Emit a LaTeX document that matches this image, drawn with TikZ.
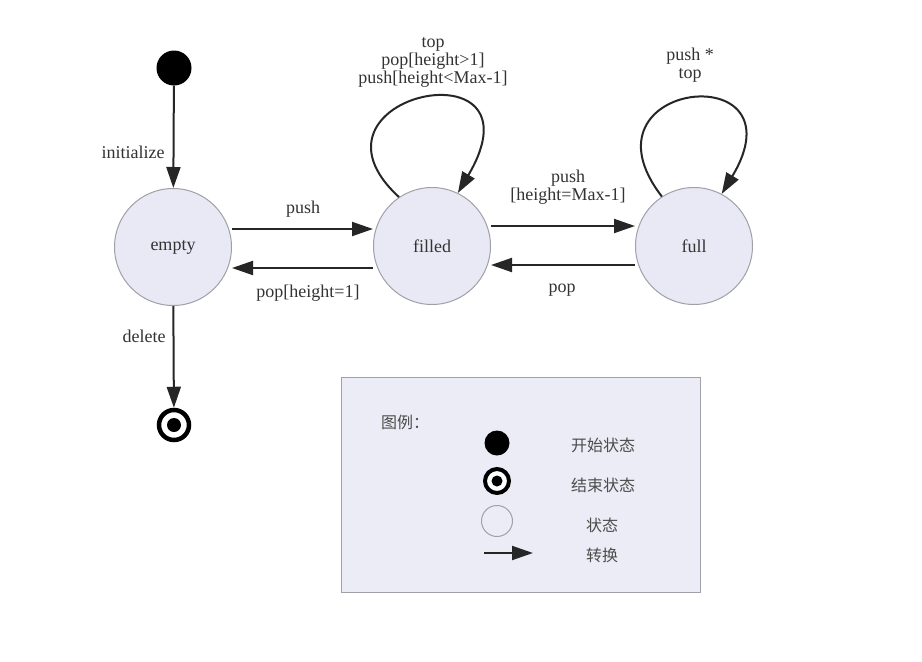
\documentclass[tikz,border=0pt]{standalone}
\usepackage{fontspec}
\setmainfont{Liberation Serif}
\newfontfamily\cjk{Noto Sans CJK SC}
\usetikzlibrary{arrows.meta}
\definecolor{statefill}{HTML}{E9E9F6}
\definecolor{stateline}{HTML}{A0A0A8}
\definecolor{legendfill}{HTML}{ECECF6}
\definecolor{txt}{HTML}{333333}
\begin{document}
\begin{tikzpicture}[x=1pt,y=-1pt,
  font=\fontsize{18}{19}\selectfont, text=txt,
  statenode/.style={circle, draw=stateline, fill=statefill, line width=1pt, minimum size=117pt, inner sep=0pt},
  startnode/.style={circle, fill=black, minimum size=35pt, inner sep=0pt},
  endnode/.style={circle, draw=black, line width=4.5pt, fill=white, minimum size=30pt, inner sep=0pt,
     path picture={\fill[black] (path picture bounding box.center) circle (7pt);}},
  trans/.style={draw=black!85, line width=2pt, -{Triangle[length=21pt,width=14pt]}},
  lbl/.style={inner sep=0pt, align=center},
  cjklbl/.style={inner sep=0pt, font=\cjk\fontsize{16}{18}\selectfont, text=black!70}]
\useasboundingbox (0,0) rectangle (922,662);
\fill[white] (0,0) rectangle (922,662);

% states
\node[startnode] (init) at (174,68) {};
\node[statenode] (empty) at (173,247) {empty};
\node[statenode] (filled) at (432,246) {filled};
\node[statenode] (full) at (694,246) {full};
\node[endnode] (final) at (174,425) {};

% transitions
\draw[trans] (init) -- (empty);
\node[lbl] (linit) at (133,152) {initialize};
\draw[trans] (empty) -- (final);
\node[lbl] (ldel) at (144,336) {delete};

\draw[trans] (empty.east |- 0,229) -- (filled.west |- 0,229);
\node[lbl] (lpush1) at (303,209) {push};
\draw[trans] (filled.west |- 0,268) -- (empty.east |- 0,268);
\node[lbl] (lpop1) at (308,293) {pop[height=1]};

\draw[trans] (filled.east |- 0,226) -- (full.west |- 0,226);
\node[lbl] (lpush2) at (568,187) {push\\[-1pt][height=Max-1]};
\draw[trans] (full.west |- 0,265) -- (filled.east |- 0,265);
\node[lbl] (lpop2) at (562,290) {pop};

\draw[trans] (filled.124) .. controls (288,95) and (548,40) .. (filled.64);
\node[lbl] (lloop1) at (433,62) {top\\[-1pt]pop[height>1]\\[-1pt]push[height<Max-1]};
\draw[trans] (full.123) .. controls (572,80) and (805,55) .. (full.62);
\node[lbl] (lloop2) at (690,65) {push *\\[-1pt]top};

% legend
\node[draw=stateline, fill=legendfill, line width=1pt, minimum width=359pt, minimum height=215pt, inner sep=0pt] (legend) at (520.5,484.5) {};
\node[cjklbl] (lgtitle) at (405,422) {图例：};
\node[circle, fill=black, minimum size=25pt, inner sep=0pt] (lgstart) at (497,443) {};
\node[cjklbl] (lgstartt) at (603,445) {开始状态};
\node[circle, draw=black, line width=4pt, fill=white, minimum size=24pt, inner sep=0pt,
  path picture={\fill[black] (path picture bounding box.center) circle (5.5pt);}] (lgend) at (497,481) {};
\node[cjklbl] (lgendt) at (603,485) {结束状态};
\node[circle, draw=stateline, fill=legendfill, line width=1pt, minimum size=31pt, inner sep=0pt] (lgstate) at (497,521) {};
\node[cjklbl] (lgstatet) at (602,525) {状态};
\coordinate (lga) at (484,553);
\coordinate (lgb) at (533,553);
\draw[trans] (lga) -- (lgb);
\node[cjklbl] (lgtranst) at (602,555) {转换};
\end{tikzpicture}
\end{document}
